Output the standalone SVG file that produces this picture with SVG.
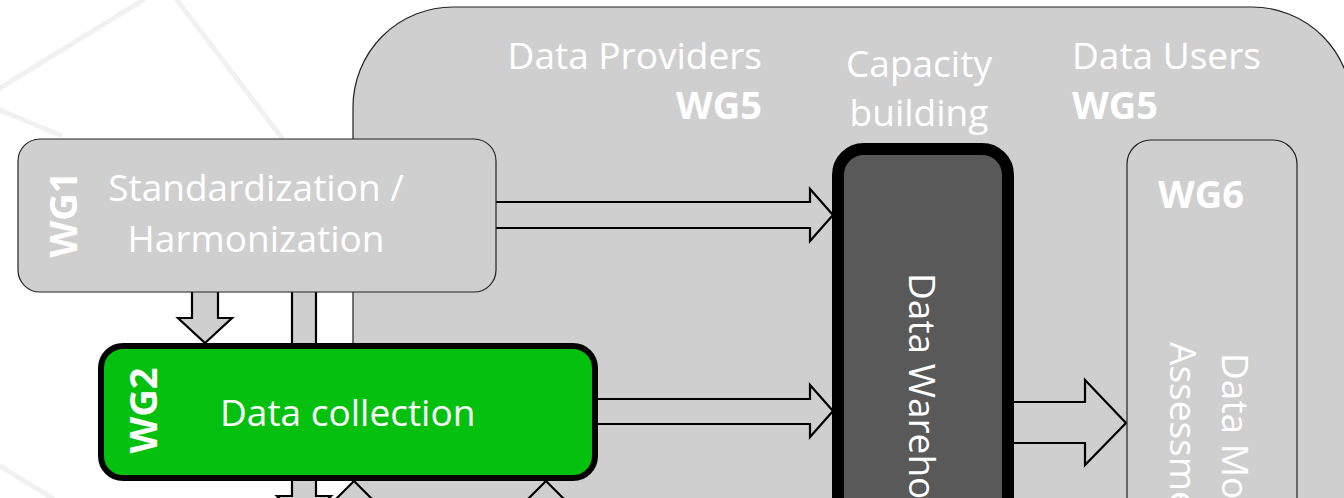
<svg xmlns="http://www.w3.org/2000/svg" width="1344" height="498" viewBox="0 0 1344 498">
<style>
.bg{fill:#d0cfd0;stroke:#222;stroke-width:1.2}
.arrow{fill:#d0cfd0;stroke:#000;stroke-width:2.2;stroke-linejoin:miter}
.faint{fill:none;stroke:#f1f1f1;stroke-width:5;stroke-linecap:round}
.t{font-family:"Open Sans","Liberation Sans",sans-serif;font-size:37px;fill:#ffffff}
.b{font-family:"Open Sans","Liberation Sans",sans-serif;font-size:38px;font-weight:bold;fill:#ffffff}
</style>
<rect width="1344" height="498" fill="#ffffff"/>
<g id="background-lines">
<path class="faint" d="M0,88 L143,0"/>
<path class="faint" d="M177,0 L282,138"/>
<path class="faint" d="M0,110 L60,135"/>
<path class="faint" d="M0,466 L52,498"/>
</g>
<g id="region">
<path class="bg" d="M353,520 V107 A100,100 0 0 1 453,7 H1252 A100,100 0 0 1 1352,107 V520"/>
<text class="t" x="762" y="69" text-anchor="end">Data Providers</text>
<text class="b" x="762" y="119" text-anchor="end">WG5</text>
<text class="t" x="919" y="77" text-anchor="middle">Capacity</text>
<text class="t" x="919" y="126" text-anchor="middle">building</text>
<text class="t" x="1072" y="69">Data Users</text>
<text class="b" x="1072" y="119">WG5</text>
</g>
<g id="connectors">
<path class="arrow" d="M292,292 V496 H277 L304,523 L331,496 H316 V292"/>
<path class="arrow" d="M192,292 V318 H178 L205,343 L232,318 H218 V292"/>
<path class="arrow" d="M496,202 H810 V189 L833,215 L810,241 V228 H496"/>
<path class="arrow" d="M598,399 H810 V385 L833,411 L810,437 V424 H598"/>
<path class="arrow" d="M1014,402 H1085 V380 L1126,423 L1085,465 V443 H1014"/>
<path class="arrow" d="M341,530 V508 H327 L354,481 L381,508 H367 V530"/>
<path class="arrow" d="M533,530 V508 H519 L546,481 L573,508 H559 V530"/>
</g>
<g id="wg1">
<rect class="bg" x="18" y="139" width="478" height="153" rx="22"/>
<text class="b" transform="translate(77,214.5) rotate(-90)" text-anchor="middle">WG1</text>
<text class="t" x="256" y="201" text-anchor="middle">Standardization /</text>
<text class="t" x="256" y="252" text-anchor="middle">Harmonization</text>
</g>
<g id="wg2">
<rect x="101" y="346" width="494" height="132" rx="22" fill="#05c10f" stroke="#000" stroke-width="6"/>
<text class="b" transform="translate(157,410.5) rotate(-90)" text-anchor="middle">WG2</text>
<text class="t" x="220" y="426">Data collection</text>
</g>
<g id="warehouse">
<rect x="838" y="149" width="170" height="420" rx="26" fill="#595959" stroke="#000" stroke-width="12"/>
<text class="t" transform="translate(909,273) rotate(90)">Data Warehouse</text>
</g>
<g id="wg6">
<rect class="bg" x="1127" y="140" width="170" height="420" rx="24"/>
<text class="b" x="1201" y="208" text-anchor="middle">WG6</text>
<text class="t" transform="translate(1222,353) rotate(90)">Data Model</text>
<text class="t" transform="translate(1170,342) rotate(90)">Assessment</text>
</g>
</svg>
